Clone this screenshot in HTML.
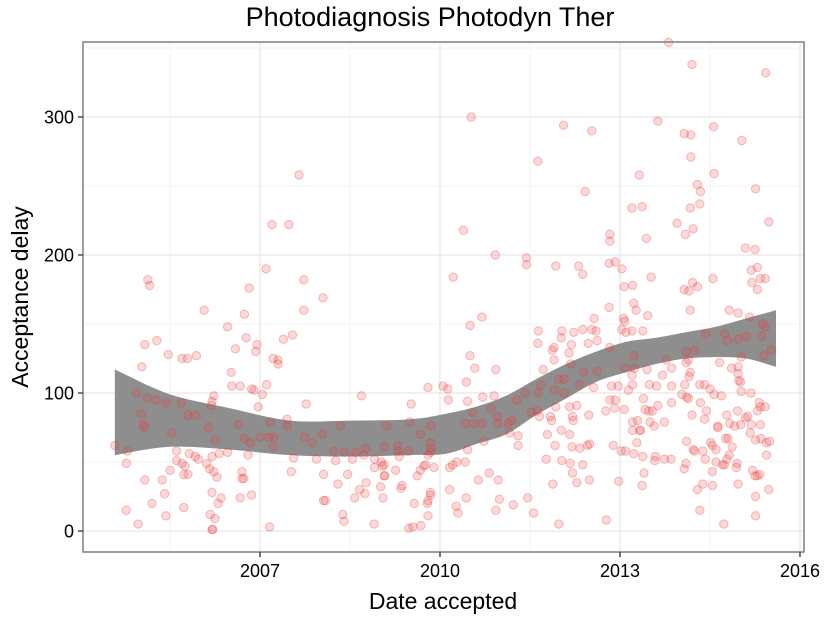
<!DOCTYPE html>
<html><head><meta charset="utf-8"><style>
html,body{margin:0;padding:0;background:#fff;}
svg{display:block;font-family:"Liberation Sans",sans-serif;}
</style></head><body>
<svg id="chart" width="825" height="618" viewBox="0 0 825 618" xmlns="http://www.w3.org/2000/svg">
<text x="430" y="26" font-size="27" text-anchor="middle" fill="#000">Photodiagnosis Photodyn Ther</text>
<text x="443" y="609" font-size="23" text-anchor="middle" fill="#000">Date accepted</text>
<text transform="translate(28,297) rotate(-90)" font-size="23" text-anchor="middle" fill="#000">Acceptance delay</text>
<g id="grid"></g>
<g id="band"></g>
<g id="points"></g>
<rect x="83" y="42" width="721" height="510" fill="none" stroke="#7f7f7f" stroke-width="1.5"/>
<g id="axes"></g>
</svg>
<script>
const yTicks=[0,100,200,300];
const yMinor=[50,150,250,350];
const xTicks=[2007,2010,2013,2016];
const xTickLabels=["2007","2010","2013","2016"];
const xMinor=[2005.5,2008.5,2011.5,2014.5];
const smoothX=[2004.58,2005.5,2006.5,2007.5,2008.5,2009.5,2010.1,2010.6,2011.1,2011.6,2012.1,2012.6,2013.1,2013.6,2014.1,2014.6,2015.1,2015.6];
const smoothUpper=[117,99,89,80,80,81,85,90,98,110,121,130,137,140,144,148,154,160];
const smoothLower=[55,61,59,55,54,55,56,63,70,84,96,108,115,121,125,126,125,119];
const ptYear=[2007.65,2007.2,2007.48,2007.1,2005.13,2005.16,2007.73,2006.82,2008.05,2006.07,2007.73,2006.74,2006.46,2006.77,2007.54,2007.39,2005.08,2005.28,2006.95,2006.93,2006.59,2005.47,2005.7,2005.79,2005.94,2007.22,2007.3,2007.3,2005.03,2006.52,2006.53,2006.67,2007.11,2006.86,2006.9,2007.04,2004.94,2005.12,2005.27,2005.44,2005.69,2006.23,2006.2,2006.19,2007.77,2006.97,2005.02,2005.8,2005.92,2007.45,2007.45,2007.17,2005.05,2005.08,2006.14,2006.64,2007.74,2007.0,2007.15,2007.23,2006.74,2006.25,2005.53,2006.84,2007.22,2007.87,2008.04,2008.34,2008.69,2009.11,2009.52,2009.5,2009.8,2010.05,2009.68,2004.58,2004.79,2004.77,2005.61,2005.61,2005.7,2005.75,2005.73,2005.8,2005.82,2005.92,2005.97,2006.2,2006.32,2006.46,2006.8,2006.11,2006.16,2006.23,2006.28,2006.7,2006.7,2006.73,2005.08,2005.37,2005.5,2005.41,2005.2,2004.77,2004.97,2005.43,2005.73,2006.2,2006.35,2006.3,2006.17,2006.25,2006.2,2006.21,2006.67,2006.86,2007.16,2007.52,2007.56,2007.94,2008.06,2008.06,2008.09,2008.3,2008.26,2008.46,2008.38,2008.4,2008.58,2008.66,2008.75,2008.77,2008.23,2008.41,2008.54,2008.6,2008.73,2008.76,2008.91,2008.91,2009.02,2009.07,2009.04,2009.07,2009.08,2009.01,2009.05,2008.9,2009.26,2009.37,2009.35,2009.57,2009.48,2009.55,2009.68,2009.62,2009.67,2009.73,2009.76,2009.79,2009.8,2009.84,2009.84,2009.8,2009.9,2009.47,2009.3,2009.3,2009.32,2009.07,2009.8,2009.84,2009.85,2009.84,2009.85,
2013.81,2014.2,2015.43,2010.52,2012.06,2012.53,2013.63,2014.07,2014.18,2014.56,2015.03,2014.18,2011.63,2013.32,2014.57,2014.29,2014.34,2012.42,2015.26,2014.17,2014.33,2013.2,2013.37,2015.48,2013.95,2014.09,2014.22,2010.39,2012.83,2012.83,2013.44,2015.09,2015.25,2010.92,2011.44,2011.44,2011.93,2012.31,2012.38,2012.82,2012.92,2013.03,2010.22,2013.52,2015.19,2015.29,2015.34,2015.42,2015.2,2015.29,2014.55,2014.07,2014.15,2014.21,2014.29,2013.07,2013.21,2013.23,2013.27,2013.46,2014.17,2012.82,2010.5,2010.7,2012.57,2012.53,2012.6,2013.06,2013.08,2013.03,2013.1,2013.2,2013.38,2012.03,2012.23,2012.38,2011.64,2012.02,2012.19,2012.47,2012.62,2011.63,2011.9,2011.87,2012.15,2011.9,2012.83,2014.82,2014.97,2015.16,2015.38,2015.42,2014.43,2014.75,2014.79,2014.97,2015.1,2015.36,2014.1,2014.24,2014.14,2014.1,2015.02,2015.52,2015.4,2013.23,2013.77,2010.5,2010.58,2010.93,2012.18,2011.72,2012.39,2012.62,2013.08,2013.24,2013.45,2013.2,2013.71,2013.86,2014.17,2014.15,2014.66,2014.86,2014.97,2014.97,2014.98,2015.01,2015.02,2015.18,2010.44,2011.68,2011.98,2012.07,2012.33,2012.56,2011.91,2012.07,2012.86,2012.97,2013.14,2013.21,2013.49,2013.61,2013.86,2014.08,2014.33,2014.41,2014.5,2014.57,2014.69,2014.03,2014.11,2014.14,2010.13,2010.14,2010.46,2010.71,2010.9,2011.42,2011.64,2011.28,2010.85,2010.54,2010.96,2010.96,2010.42,2010.56,2010.7,2011.14,2011.19,2011.16,2011.52,2011.62,2011.66,2011.86,2011.84,2011.93,2012.16,2012.28,2012.21,2012.22,2012.48,2012.76,2012.83,2012.92,2012.91,2013.07,2013.39,2013.42,2013.48,2013.54,2013.63,2013.86,2013.21,2013.29,2013.33,2013.34,2013.5,2013.57,2013.74,2013.21,2014.2,2014.34,2014.44,2014.41,2014.63,2014.63,2014.78,2014.83,2014.91,2014.96,2015.01,2015.09,2015.13,2015.19,2015.34,2015.32,2015.34,2015.42,2015.29,2015.17,2011.79,2012.02,2012.16,2010.73,2011.3,2011.3,2010.46,2011.92,2012.2,2012.33,2012.46,2012.49,2012.89,2013.02,2013.09,2013.23,2013.28,2013.38,2013.59,2013.58,2013.74,2013.85,2014.11,2014.22,2014.24,2014.38,2014.51,2014.54,2014.6,2014.76,2014.8,2014.87,2014.82,2014.78,2014.74,2014.71,2014.6,2014.54,2014.42,2014.07,2014.1,2014.95,2014.94,2015.21,2015.25,2015.29,2015.33,2015.26,2015.35,2015.44,2015.49,2015.44,2011.77,2012.03,2012.17,2012.38,2012.21,2012.28,2012.49,2011.88,2010.16,2010.21,2010.28,2010.42,2010.64,2010.82,2010.97,2010.16,2010.44,2010.27,2010.3,2010.99,2010.93,2011.22,2011.46,2011.56,2011.98,2012.77,2012.98,2013.4,2013.37,2014.29,2014.38,2014.54,2014.33,2014.73,2014.97,2015.26,2015.26,2015.48];
const ptValue=[258,222,222,190,182,178,182,176,169,160,160,157,148,140,142,139,135,138,135,130,132,128,125,125,127,125,124,121,119,115,105,105,106,103,102,99,100,96,95,93,93,98,94,91,92,90,85,84,84,81,76,79,77,75,75,77,68,68,68,68,67,66,71,64,61,64,70,76,98,76,92,79,104,105,70,62,58,49,58,51,49,47,41,41,56,54,52,54,56,57,55,49,45,43,39,43,38,38,37,37,44,27,20,15,5,11,17,28,24,20,12,9,1,1,24,26,3,43,53,52,41,22,22,34,51,41,12,7,24,30,27,35,58,57,52,57,55,60,52,46,50,48,47,40,40,32,24,5,44,33,31,20,2,3,4,40,44,47,48,20,22,26,28,11,46,58,62,58,54,61,55,57,60,64,76,
354,338,332,300,294,290,297,288,287,293,283,271,268,258,259,251,246,246,248,234,237,234,235,224,223,215,219,218,215,210,212,205,204,200,198,193,192,192,186,194,195,190,184,184,189,191,183,183,180,175,183,175,174,180,177,177,178,165,160,156,160,162,149,155,154,146,145,154,152,146,144,145,145,145,144,146,145,140,135,136,138,136,133,131,129,124,133,160,158,155,150,148,143,143,138,139,141,141,130,131,124,122,126,131,127,127,124,127,118,117,121,117,115,116,118,118,117,113,113,118,115,112,122,118,119,114,109,108,101,100,108,106,110,110,106,104,102,100,105,105,102,106,106,105,105,106,106,106,103,99,98,99,97,96,103,95,94,97,98,100,100,95,89,86,83,78,78,78,78,78,80,71,86,87,83,80,83,90,90,91,83,80,84,87,95,95,89,88,96,88,87,87,91,93,79,80,73,73,79,76,79,73,84,93,87,81,76,75,84,78,76,87,77,82,83,77,77,93,90,90,87,71,70,73,70,65,69,62,59,62,61,60,62,63,62,58,58,56,64,54,54,51,52,52,65,59,58,58,64,62,59,67,67,61,55,52,48,48,50,43,52,45,49,49,46,44,40,40,41,66,67,64,65,55,52,51,49,48,42,35,37,34,46,48,50,50,37,42,37,30,24,18,13,23,15,19,24,13,5,8,36,42,33,30,34,33,15,5,34,25,11,30];
const NS='http://www.w3.org/2000/svg';
const L=83,R=804,T=42,B=552;
const xMin=2007-(260-L)/60, xMax=2007+(R-260)/60;
const yMin=(531-B)/1.38, yMax=(531-T)/1.38;
const sx=v=>L+(v-xMin)/(xMax-xMin)*(R-L);
const sy=v=>B-(v-yMin)/(yMax-yMin)*(B-T);
function mk(tag,attrs,parent){const e=document.createElementNS(NS,tag);for(const k in attrs)e.setAttribute(k,attrs[k]);parent.appendChild(e);return e;}
function smoothPath(P,start){
  let s=start?'M'+P[0][0].toFixed(1)+','+P[0][1].toFixed(1):'L'+P[0][0].toFixed(1)+','+P[0][1].toFixed(1);
  for(let i=0;i<P.length-1;i++){
    const p0=P[Math.max(0,i-1)],p1=P[i],p2=P[i+1],p3=P[Math.min(P.length-1,i+2)];
    const c1=[p1[0]+(p2[0]-p0[0])/6,p1[1]+(p2[1]-p0[1])/6];
    const c2=[p2[0]-(p3[0]-p1[0])/6,p2[1]-(p3[1]-p1[1])/6];
    s+='C'+c1[0].toFixed(1)+','+c1[1].toFixed(1)+' '+c2[0].toFixed(1)+','+c2[1].toFixed(1)+' '+p2[0].toFixed(1)+','+p2[1].toFixed(1);
  }
  return s;
}
const grid=document.getElementById('grid');
yMinor.forEach(v=>{const e=mk('line',{x1:L,x2:R,y1:sy(v),y2:sy(v),stroke:'#f3f3f3','stroke-width':1},grid);

});
xMinor.forEach(v=>{const e=mk('line',{x1:sx(v),x2:sx(v),y1:T,y2:B,stroke:'#f3f3f3','stroke-width':1},grid);

});
yTicks.forEach(v=>{const e=mk('line',{x1:L,x2:R,y1:sy(v),y2:sy(v),stroke:'#e6e6e6','stroke-width':1.2},grid);

});
xTicks.forEach(v=>{const e=mk('line',{x1:sx(v),x2:sx(v),y1:T,y2:B,stroke:'#e6e6e6','stroke-width':1.2},grid);

});
const band=document.getElementById('band');
const up=smoothX.map((x,i)=>[sx(x),sy(smoothUpper[i])]);
const lo=smoothX.map((x,i)=>[sx(x),sy(smoothLower[i])]).reverse();
const d=smoothPath(up,true)+smoothPath(lo,false)+'Z';
const bp=mk('path',{d:d,fill:'#8e8e8e'},band);


const pts=document.getElementById('points');
ptYear.forEach((x,i)=>{const c=mk('circle',{cx:sx(x).toFixed(1),cy:sy(ptValue[i]).toFixed(1),r:4.2,fill:'rgba(240,60,60,0.2)',stroke:'rgba(230,50,50,0.3)','stroke-width':1},pts);

});
const axes=document.getElementById('axes');
yTicks.forEach(v=>{const t=mk('line',{x1:L-5,x2:L,y1:sy(v),y2:sy(v),stroke:'#333','stroke-width':1.3},axes);


const tx=mk('text',{x:L-9,y:sy(v)+6.5,'font-size':18,'text-anchor':'end',fill:'#000'},axes);
tx.textContent=String(v);

});
xTicks.forEach((v,i)=>{const t=mk('line',{x1:sx(v),x2:sx(v),y1:B,y2:B+5,stroke:'#333','stroke-width':1.3},axes);


const tx=mk('text',{x:sx(v),y:B+25,'font-size':18,'text-anchor':'middle',fill:'#000'},axes);
tx.textContent=xTickLabels[i];

});
</script>
</body></html>
